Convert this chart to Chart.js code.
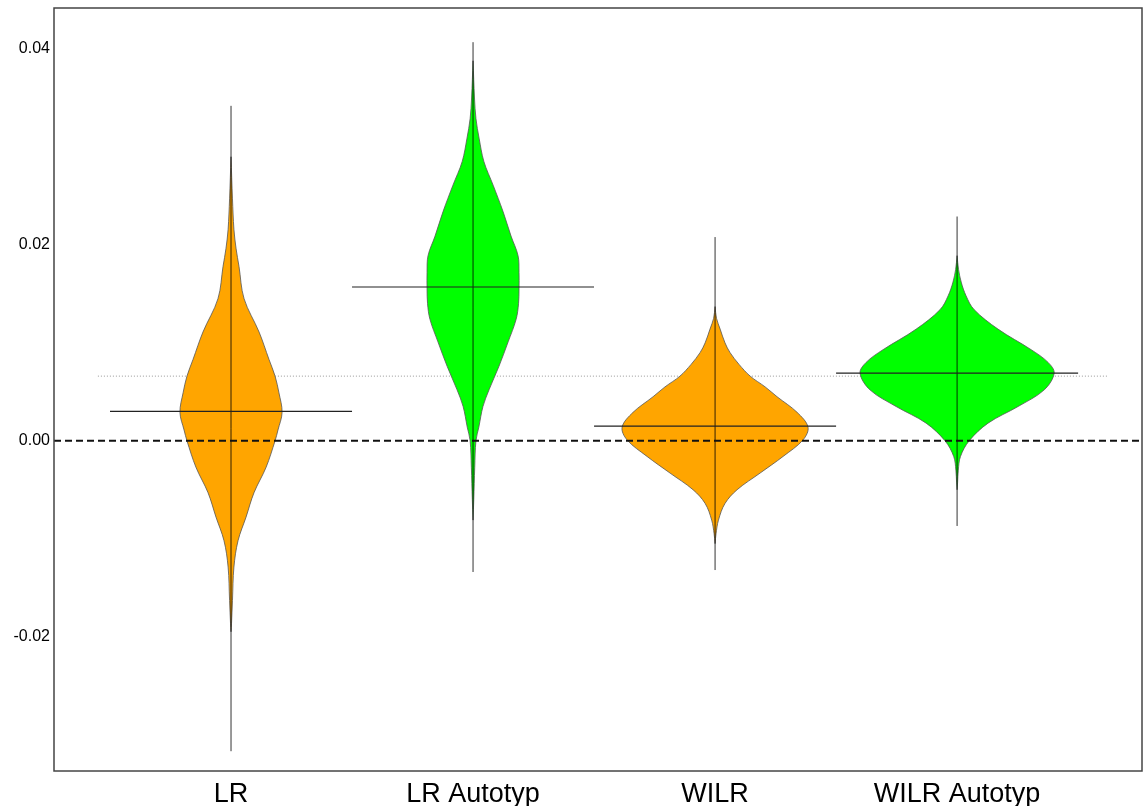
<!DOCTYPE html>
<html>
<head>
<meta charset="utf-8">
<script src="https://cdn.jsdelivr.net/npm/chart.js@4.4.1/dist/chart.umd.min.js"></script>
<style>
  html, body { margin: 0; padding: 0; background: #fff; }
  #wrap { width: 1146px; height: 806px; }
</style>
</head>
<body>
<div id="wrap"><canvas id="beanChart"></canvas></div>
<script>
// ------------------------------------
// DATA
// ------------------------------------
const groupNames = ["LR", "LR Autotyp", "WILR", "WILR Autotyp"];
const groupColors = ["#ffa500", "#00ff00", "#ffa500", "#00ff00"];
const yTicks = [-0.02, 0.00, 0.02, 0.04];

// density outline: value levels (top -> bottom) and half widths (in category units)
const lrLevels = [0.0290, 0.0247, 0.0216, 0.0196, 0.0178, 0.0145, 0.0111, 0.0083, 0.0066, 0.0049, 0.0029, 0.0011, 0.0000, -0.0027, -0.0053, -0.0078, -0.0102, -0.0129, -0.0163, -0.0187, -0.0195];
const lrWidths = [0.000, 0.006, 0.012, 0.021, 0.033, 0.054, 0.116, 0.157, 0.182, 0.198, 0.211, 0.194, 0.182, 0.145, 0.095, 0.062, 0.029, 0.012, 0.006, 0.002, 0.000];

const lrAutoLevels = [0.0388, 0.0350, 0.0329, 0.0309, 0.0285, 0.0261, 0.0234, 0.0209, 0.0189, 0.0172, 0.0155, 0.0140, 0.0124, 0.0101, 0.0076, 0.0052, 0.0035, 0.0014, 0.0000, -0.0027, -0.0060, -0.0081];
const lrAutoWidths = [0.000, 0.006, 0.012, 0.025, 0.045, 0.083, 0.124, 0.157, 0.186, 0.190, 0.190, 0.188, 0.178, 0.145, 0.107, 0.066, 0.041, 0.024, 0.012, 0.007, 0.003, 0.000];

const wilrLevels = [0.0137, 0.0125, 0.0114, 0.0100, 0.0090, 0.0078, 0.0066, 0.0055, 0.0045, 0.0029, 0.0014, 0.0001, -0.0016, -0.0033, -0.0050, -0.0064, -0.0081, -0.0095, -0.0105];
const wilrWidths = [0.000, 0.006, 0.021, 0.041, 0.062, 0.099, 0.145, 0.207, 0.256, 0.339, 0.384, 0.364, 0.281, 0.186, 0.091, 0.041, 0.014, 0.004, 0.000];

const wilrAutoLevels = [0.0189, 0.0175, 0.0162, 0.0148, 0.0134, 0.0114, 0.0093, 0.0080, 0.0069, 0.0052, 0.0035, 0.0018, 0.0000, -0.0016, -0.0030, -0.0043, -0.0050];
const wilrAutoWidths = [0.000, 0.006, 0.017, 0.037, 0.070, 0.169, 0.306, 0.376, 0.401, 0.360, 0.252, 0.128, 0.050, 0.014, 0.005, 0.002, 0.000];

const groupMeans = [0.0030, 0.0157, 0.0015, 0.0069];
const groupMins = [-0.0317, -0.0134, -0.0132, -0.0087];
const groupMaxs = [0.0342, 0.0407, 0.0208, 0.0229];
const overallMean = 0.0066;

const xMin = 0.2686, xMax = 4.764;
const yMin = -0.03372, yMax = 0.04419;

const allLevels = [lrLevels, lrAutoLevels, wilrLevels, wilrAutoLevels];
const allWidths = [lrWidths, lrAutoWidths, wilrWidths, wilrAutoWidths];

// ------------------------------------
// BUILD DATASETS
// ------------------------------------
const FONT = 'Arial, "Liberation Sans", Helvetica, sans-serif';
const datasets = [];

// violins (closed outline, filled as a shape)
allLevels.forEach((levels, g) => {
    const c = g + 1;
    const pts = [];
    levels.forEach((v, i) => pts.push({ x: c + allWidths[g][i], y: v }));
    for (let i = levels.length - 1; i >= 0; i--) {
        pts.push({ x: c - allWidths[g][i], y: levels[i] });
    }
    datasets.push({
        data: pts,
        showLine: true,
        fill: "shape",
        backgroundColor: groupColors[g],
        borderColor: "#555",
        borderWidth: 0.8,
        tension: 0.35,
        pointRadius: 0,
        order: 5
    });
});

// vertical bean lines (min -> max)
groupMins.forEach((mn, g) => {
    datasets.push({
        data: [{ x: g + 1, y: mn }, { x: g + 1, y: groupMaxs[g] }],
        showLine: true,
        borderColor: "rgba(0,0,0,0.8)",
        borderWidth: 1,
        pointRadius: 0,
        order: 3
    });
});

// group mean lines
groupMeans.forEach((m, g) => {
    datasets.push({
        data: [{ x: g + 0.5, y: m }, { x: g + 1.5, y: m }],
        showLine: true,
        borderColor: "#222",
        borderWidth: 1.2,
        pointRadius: 0,
        order: 1
    });
});

// overall mean (dotted, behind beans)
datasets.push({
    data: [{ x: 0.45, y: overallMean }, { x: 4.62, y: overallMean }],
    showLine: true,
    borderColor: "#999",
    borderWidth: 1,
    borderDash: [1, 2],
    pointRadius: 0,
    order: 9
});

// zero reference line
datasets.push({
    data: [{ x: xMin, y: 0 }, { x: xMax, y: 0 }],
    showLine: true,
    borderColor: "#111",
    borderWidth: 2,
    borderDash: [7, 4],
    pointRadius: 0,
    order: 2
});

// ------------------------------------
// FRAME AROUND PLOT AREA
// ------------------------------------
const boxPlugin = {
    id: "box",
    afterDraw(chart) {
        const a = chart.chartArea;
        const ctx = chart.ctx;
        ctx.save();
        ctx.strokeStyle = "#444";
        ctx.lineWidth = 1.5;
        ctx.strokeRect(a.left, a.top, a.right - a.left, a.bottom - a.top);
        ctx.restore();
    }
};

// ------------------------------------
// CHART
// ------------------------------------
new Chart(document.getElementById("beanChart"), {
    type: "scatter",
    data: { datasets: datasets },
    options: {
        responsive: true,
        maintainAspectRatio: false,
        animation: false,
        layout: { padding: { top: 8, right: 4, left: 0, bottom: 0 } },
        plugins: {
            legend: { display: false },
            tooltip: { enabled: false }
        },
        scales: {
            x: {
                type: "linear",
                min: xMin,
                max: xMax,
                grid: { display: false, drawTicks: false },
                border: { display: false },
                afterBuildTicks: axis => {
                    axis.ticks = groupNames.map((n, i) => ({ value: i + 1 }));
                },
                afterFit: s => {
                    s.height = 35;
                    s.paddingLeft = 0;
                    s.paddingRight = 0;
                },
                ticks: {
                    autoSkip: false,
                    maxRotation: 0,
                    padding: 7,
                    color: "#000",
                    font: { family: FONT, size: 27 },
                    callback: v => groupNames[v - 1]
                }
            },
            y: {
                type: "linear",
                min: yMin,
                max: yMax,
                grid: { display: false, drawTicks: false },
                border: { display: false },
                afterBuildTicks: axis => {
                    axis.ticks = yTicks.map(v => ({ value: v }));
                },
                afterFit: s => {
                    s.width = 54;
                    s.paddingTop = 0;
                    s.paddingBottom = 0;
                },
                ticks: {
                    padding: 4,
                    color: "#000",
                    font: { family: FONT, size: 16 },
                    callback: v => v.toFixed(2)
                }
            }
        }
    },
    plugins: [boxPlugin]
});
</script>
</body>
</html>
